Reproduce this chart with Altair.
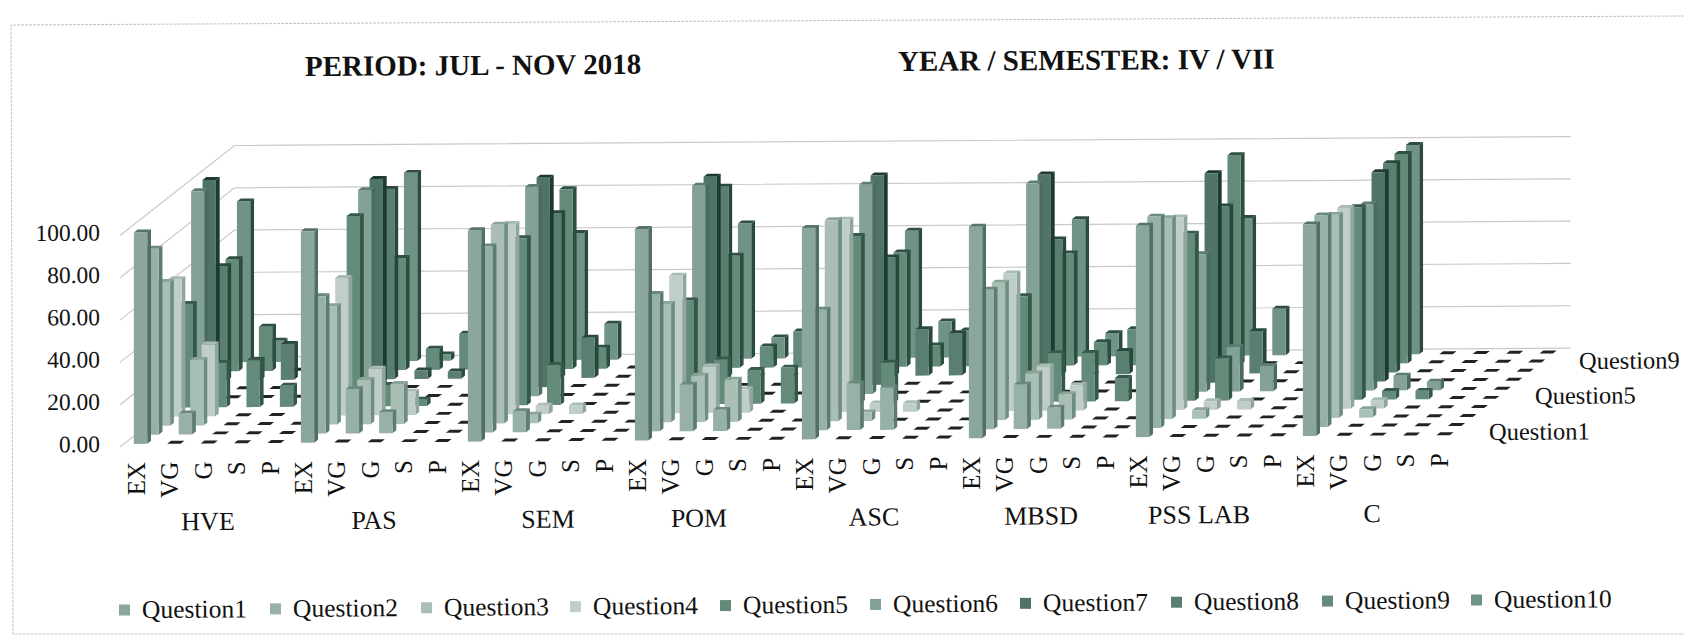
import altair as alt
import pandas as pd

subjects = ["HVE", "PAS", "SEM", "POM", "ASC", "MBSD", "PSS LAB", "C"]
ratings = ["EX", "VG", "G", "S", "P"]
questions = ["Question%d" % i for i in range(1, 11)]
ticks = [0, 20, 40, 60, 80, 100]
Z = [0] * 10

HVE = [[100, 88, 68, 65, 49, 98, 99, 54, 53, 76], [0, 10, 31, 34, 21, 0, 0, 9.5, 21, 10],
       [0, 0, 0, 0, 22, 0, 0, 17, 0, 0], [0, 0, 0, 0, 10, 0, 0, 0, 0, 0], Z]
PAS = [[100, 65, 56, 65, 90, 98, 99, 90, 53, 89], [0, 21, 21, 22, 10, 0, 0, 4, 10, 3],
       [0, 10, 19, 11, 3, 0, 0, 3.5, 17, 0], Z, Z]
SEM = [[100, 88, 94, 90, 79, 99, 99, 78, 85, 60], [0, 10, 4, 4, 19, 0, 0, 19, 10, 17],
       [0, 0, 0, 4, 0, 0, 0, 0, 0, 0], Z, Z]
POM = [[100, 65, 56, 65, 49, 99, 99, 90, 53, 64], [0, 22, 22, 22, 21, 0, 0, 0, 10, 10],
       [0, 10, 20, 11, 16, 0, 0, 0, 17, 0], [0, 0, 0, 0, 17, 0, 0, 0, 0, 0], Z]
ASC = [[100, 57, 95, 91, 79, 99, 99, 56, 54, 60], [0, 22, 4, 4, 19, 0, 0, 22, 10, 17],
       [0, 20, 0, 4, 0, 0, 0, 20, 17, 0], Z, Z]
MBSD = [[100, 66, 65, 65, 50, 99, 99, 64, 53, 65], [0, 21, 22, 21, 23, 0, 0, 0, 11, 11],
        [0, 10, 12, 12, 23, 0, 0, 11, 17, 0], [0, 0, 0, 0, 11, 0, 0, 0, 0, 0], Z]
PSS = [[100, 100, 95, 91, 79, 65, 99, 79, 99, 65], [0, 0, 4, 4, 20, 21, 0, 20, 0, 22],
       [0, 0, 0, 4, 0, 12, 0, 0, 0, 0], Z, Z]
CC = [[100, 100, 96, 95, 91, 88, 99, 99, 99, 99], [0, 0, 4, 4, 4, 7, 0, 0, 0, 0],
      [0, 0, 0, 0, 4, 4, 0, 0, 0, 0], Z, Z]
matrix = [HVE, PAS, SEM, POM, ASC, MBSD, PSS, CC]

front_cols = ["#8ba79d", "#98b1a6", "#a9bfb5", "#bfcec8", "#648a7a",
              "#84a195", "#4f7465", "#5a7f70", "#648a7a", "#6f9485"]
side_cols = ["#4f6f64", "#5c7c70", "#6f8e82", "#8ea69c", "#33584a",
             "#4a6c5f", "#1d3a2f", "#26473a", "#2c4e41", "#2a4a3e"]
top_cols = ["#55756a", "#6b8a7e", "#8aa598", "#a9bcb3", "#37594b",
            "#5c7d70", "#1f3a30", "#29493c", "#2f5043", "#2f4f42"]

# oblique projection of the 3-D chart
X0, Y0 = 120.0, 447.0
CAT = 33.4
DX, DY = 11.45, 9.0
PY = 2.115
TILT = 0.0067
BW = 0.40 * CAT
BD = 0.33


def px(c, d):
    return X0 + CAT * c + DX * d


def py(x, d, v):
    return Y0 - DY * d - PY * v - TILT * (x - X0)


def faces(q):
    fr, si, to, ze = [], [], [], []
    d0 = q + 0.5 - BD / 2
    d1 = q + 0.5 + BD / 2
    for s, subj in enumerate(matrix):
        for r, row in enumerate(subj):
            v = row[q]
            c = s * 5 + r
            xl = px(c + 0.5 - 0.2, d0)
            xr = xl + BW
            xl2 = xl + DX * BD
            xr2 = xr + DX * BD
            bid = f"{s}-{r}"
            t = [dict(id=bid, y=py(xl, d0, v), a=xl, b=xr),
                 dict(id=bid, y=py(xl, d1, v), a=xl2, b=xr2)]
            if v == 0:
                ze += t
                continue
            to += t
            fr += [dict(id=bid, x=xl, y=py(xl, d0, v), y2=py(xl, d0, 0)),
                   dict(id=bid, x=xr, y=py(xr, d0, v), y2=py(xr, d0, 0))]
            si += [dict(id=bid, x=xr, y=py(xr, d0, v), y2=py(xr, d0, 0)),
                   dict(id=bid, x=xr2, y=py(xr, d1, v), y2=py(xr, d1, 0))]
    return pd.DataFrame(fr), pd.DataFrame(si), pd.DataFrame(to), pd.DataFrame(ze)


W, H = 1676, 627
xs = alt.Scale(domain=[8, 8 + W], nice=False, zero=False)
ys = alt.Scale(domain=[8 + H, 8], nice=False, zero=False)
X = lambda f="x": alt.X(f + ":Q", scale=xs, axis=None, stack=None)
Y = lambda f="y": alt.Y(f + ":Q", scale=ys, axis=None, stack=None)

layers = []

# outer frame of the scanned chart
frame = pd.DataFrame([dict(o=0, x=1684, y=16), dict(o=1, x=11, y=25), dict(o=2, x=13, y=634), dict(o=3, x=1684, y=634)])
layers.append(alt.Chart(frame).mark_line(color="#c4c4c4", strokeWidth=1, strokeDash=[3, 1], clip=True).encode(
    x=X(), y=Y(), order="o:Q"))

# walls' gridlines
gl = []
for v in ticks:
    a = (X0, py(X0, 0, v))
    b = (X0 + 10 * DX, py(X0, 10, v))
    c_ = (px(40, 10), py(px(40, 0), 10, v))
    gl += [dict(id=v, o=0, x=a[0], y=a[1]), dict(id=v, o=1, x=b[0], y=b[1]), dict(id=v, o=2, x=c_[0], y=c_[1])]
layers.append(alt.Chart(pd.DataFrame(gl)).mark_line(color="#c9c9c9", strokeWidth=1.2).encode(
    x=X(), y=Y(), detail="id:N", order="o:Q"))

# bars, back to front
for q in range(9, -1, -1):
    fr, si, to, ze = faces(q)
    if len(ze):
        layers.append(alt.Chart(ze).mark_area(orient="horizontal", color="#1f2422").encode(
            y=Y(), x=X("a"), x2="b:Q", detail="id:N"))
    layers.append(alt.Chart(si).mark_area(orient="vertical", color=side_cols[q]).encode(
        x=X(), y=Y(), y2="y2:Q", detail="id:N"))
    layers.append(alt.Chart(to).mark_area(orient="horizontal", color=top_cols[q]).encode(
        y=Y(), x=X("a"), x2="b:Q", detail="id:N"))
    layers.append(alt.Chart(fr).mark_area(orient="vertical", color=front_cols[q]).encode(
        x=X(), y=Y(), y2="y2:Q", detail="id:N"))

FONT = "Liberation Serif"
ANG = 360 - 0.38


def text_layer(rows, size, align="left", angle=ANG, weight="normal", color="#111111", baseline="middle"):
    return alt.Chart(pd.DataFrame(rows)).mark_text(
        font=FONT, fontSize=size, align=align, angle=angle, fontWeight=weight, color=color, baseline=baseline
    ).encode(x=X(), y=Y(), text="t:N")


# value axis
layers.append(text_layer([dict(x=100, y=445 - PY * v, t=f"{v:.2f}") for v in ticks], 23.5, align="right"))

# rating labels and subject labels
rr = []
for s in range(len(subjects)):
    for r, lab in enumerate(ratings):
        x = 137 + CAT * (s * 5 + r)
        rr.append(dict(x=x, y=462 - TILT * (x - 137), t=lab))
layers.append(text_layer(rr, 25, align="right", angle=270))
group_x = [208, 374, 548, 699, 874, 1041, 1199, 1372]
gg = []
for s, lab in enumerate(subjects):
    x = group_x[s]
    gg.append(dict(x=x, y=522 - TILT * (x - 208), t=lab))
layers.append(text_layer(gg, 26, align="center"))

# series axis labels
layers.append(text_layer([dict(x=1489, y=433, t=questions[0]), dict(x=1535, y=397, t=questions[4]),
                          dict(x=1579, y=362, t=questions[8])], 24.5))

# titles
layers.append(text_layer([dict(x=305, y=67, t="PERIOD: JUL - NOV 2018"),
                          dict(x=898, y=62, t="YEAR / SEMESTER: IV / VII")], 29, weight="bold"))

# legend
sw = [119, 270, 421, 570, 720, 870, 1020, 1171, 1322, 1471]
leg_s, leg_t = [], []
for i, q in enumerate(questions):
    yy = 610 - 10 * (sw[i] - 119) / (1471 - 119)
    leg_s.append(dict(x=sw[i], x2=sw[i] + 11, y=yy - 5.5, y2=yy + 5.5, q=q))
    leg_t.append(dict(x=sw[i] + 23, y=yy, t=q))
layers.append(alt.Chart(pd.DataFrame(leg_s)).mark_rect().encode(
    x=X(), x2="x2:Q", y=Y(), y2="y2:Q",
    color=alt.Color("q:N", scale=alt.Scale(domain=questions, range=front_cols), legend=None)))
layers.append(text_layer(leg_t, 25.5))

chart = alt.layer(*layers).properties(width=W, height=H, padding=0).configure_view(stroke=None)
chart.save("out.html", embed_options={"renderer": "svg", "actions": False})
